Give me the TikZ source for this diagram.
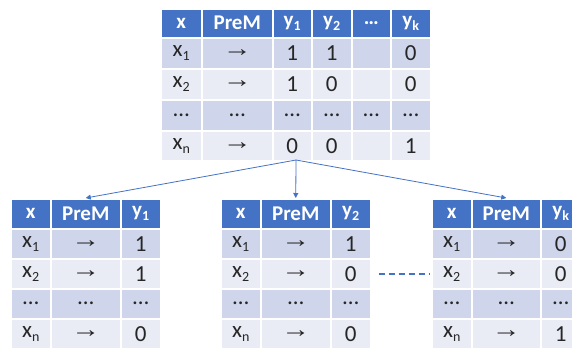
\documentclass[tikz,border=0pt]{standalone}
\usepackage{graphicx}
\usepackage{fontspec}
\setmainfont{Carlito}
\newfontfamily\arrfont{Liberation Sans}
\usetikzlibrary{arrows.meta}
\definecolor{hdr}{HTML}{4472C4}
\definecolor{rowa}{HTML}{CFD5EA}
\definecolor{rowb}{HTML}{E9EBF5}
\definecolor{txt}{HTML}{262626}
\newcommand\arr{\scalebox{1.2}[1]{\arrfont\bfseries\fontsize{24}{25}\selectfont →}}
\newcommand\mysub[1]{\raisebox{-4pt}{\fontsize{14}{15}\selectfont #1}}
\tikzset{
  cellbox/.style={draw=white, line width=1.5pt, inner sep=0pt, anchor=north west,
    text=txt, font=\fontsize{23}{25}\selectfont},
  hdrcell/.style={cellbox, fill=hdr, text=white, font=\fontsize{21}{24}\selectfont\bfseries},
  oddcell/.style={cellbox, fill=rowa},
  evencell/.style={cellbox, fill=rowb},
  link/.style={draw=hdr, line width=0.8pt, -{Triangle[length=5pt,width=5pt]}},
  dashlink/.style={draw=hdr, line width=1.5pt, dash pattern=on 6pt off 4pt},
}
% #1 prefix, #2 y, #3 h, #4 style, #5 xs, #6 ws, #7 texts
\newcommand\tabrow[7]{%
  \foreach \txt [count=\i] in {#7} {
    \pgfmathsetmacro\cx{{#5}[\i-1]}
    \pgfmathsetmacro\cw{{#6}[\i-1]}
    \node[#4, minimum width=\cw pt, minimum height=#3pt] (#1-\i) at (\cx,#2) {\txt};
  }}
\begin{document}
\begin{tikzpicture}[x=1pt,y=-1pt]
\useasboundingbox (0,0) rectangle (572,349);
\clip (0,0) rectangle (572,349);
% top table
\def\TX{160,201,272,311,351,390}
\def\TW{41,71,39,40,39,40}
\tabrow{Th}{8}{29}{hdrcell}{\TX}{\TW}{x,PreM,{y\mysub{1}},{y\mysub{2}},…,{y\mysub{k}}}
\tabrow{T1}{37}{31}{oddcell}{\TX}{\TW}{{x\mysub{1}},\arr,1,1,,0}
\tabrow{T2}{68}{31}{evencell}{\TX}{\TW}{{x\mysub{2}},\arr,1,0,,0}
\tabrow{T3}{99}{31}{oddcell}{\TX}{\TW}{…,…,…,…,…,…}
\tabrow{Tn}{130}{30}{evencell}{\TX}{\TW}{{x\mysub{n}},\arr,0,0,,1}
% bottom left
\def\AX{10,50,120}
\def\AW{40,70,40}
\tabrow{Ah}{198}{30}{hdrcell}{\AX}{\AW}{x,PreM,{y\mysub{1}}}
\tabrow{A1}{228}{30}{oddcell}{\AX}{\AW}{{x\mysub{1}},\arr,1}
\tabrow{A2}{258}{30}{evencell}{\AX}{\AW}{{x\mysub{2}},\arr,1}
\tabrow{A3}{288}{30}{oddcell}{\AX}{\AW}{…,…,…}
\tabrow{An}{318}{30}{evencell}{\AX}{\AW}{{x\mysub{n}},\arr,0}
% bottom middle
\def\BX{220,260,330}
\def\BW{40,70,40}
\tabrow{Bh}{198}{30}{hdrcell}{\BX}{\BW}{x,PreM,{y\mysub{2}}}
\tabrow{B1}{228}{30}{oddcell}{\BX}{\BW}{{x\mysub{1}},\arr,1}
\tabrow{B2}{258}{30}{evencell}{\BX}{\BW}{{x\mysub{2}},\arr,0}
\tabrow{B3}{288}{30}{oddcell}{\BX}{\BW}{…,…,…}
\tabrow{Bn}{318}{30}{evencell}{\BX}{\BW}{{x\mysub{n}},\arr,0}
% bottom right
\def\CX{431,471,540}
\def\CW{40,69,40}
\tabrow{Ch}{198}{30}{hdrcell}{\CX}{\CW}{x,PreM,{y\mysub{k}}}
\tabrow{C1}{228}{30}{oddcell}{\CX}{\CW}{{x\mysub{1}},\arr,0}
\tabrow{C2}{258}{30}{evencell}{\CX}{\CW}{{x\mysub{2}},\arr,0}
\tabrow{C3}{288}{30}{oddcell}{\CX}{\CW}{…,…,…}
\tabrow{Cn}{318}{30}{evencell}{\CX}{\CW}{{x\mysub{n}},\arr,1}
% connectors
\coordinate (tb) at (296,160);
\draw[link] (tb) -- (Ah-2.north);
\draw[link] (tb) -- (Bh-2.north);
\draw[link] (tb) -- (Ch-2.north);
\draw[dashlink] ([xshift=7pt]B2-3.east) -- ([xshift=-1pt]C2-1.west);
\end{tikzpicture}
\end{document}
